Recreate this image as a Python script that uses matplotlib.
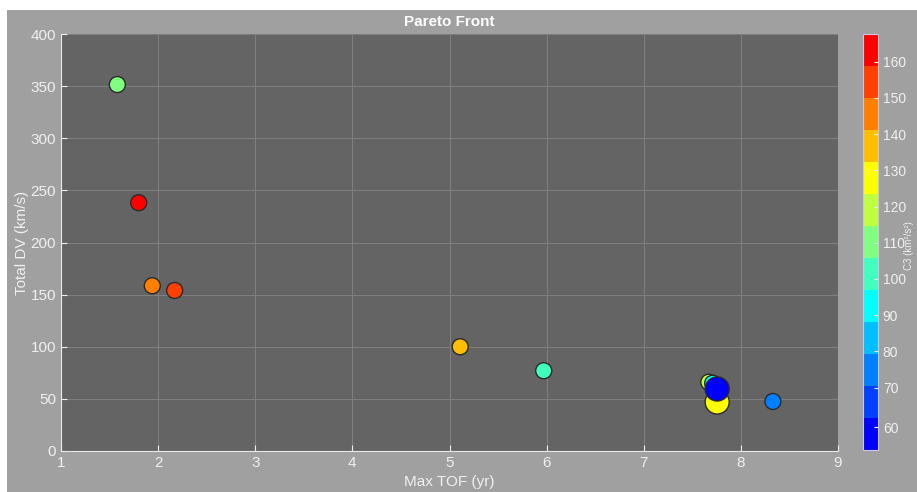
import matplotlib
matplotlib.use("Agg")
import matplotlib.pyplot as plt
from matplotlib.colors import ListedColormap, BoundaryNorm
from matplotlib.patches import Rectangle

plt.rcParams["font.family"] = ["Liberation Sans", "DejaVu Sans"]

# Pareto front solutions
max_tof = [1.58, 1.80, 1.94, 2.17, 5.11, 5.97, 7.67, 7.71, 7.756, 7.756, 8.33]
total_dv = [351.5, 238.2, 158.5, 154.0, 100.0, 77.0, 66.0, 65.0, 47.0, 59.5, 47.5]
c3 = [110.0, 165.0, 145.0, 154.0, 137.0, 102.0, 119.0, 93.0, 128.0, 58.0, 75.0]
marker_size = [133, 133, 133, 133, 133, 133, 133, 133, 300, 300, 133]

x_ticks = [1, 2, 3, 4, 5, 6, 7, 8, 9]
y_ticks = [0, 50, 100, 150, 200, 250, 300, 350, 400]
c_ticks = [60, 70, 80, 90, 100, 110, 120, 130, 140, 150, 160]

# Discrete jet-like colour scale, blue (low C3) to red (high C3)
band_colors = [
    (0.0, 0.0, 1.0), (0.0, 0.25, 1.0), (0.0, 0.5, 1.0), (0.0, 0.75, 1.0),
    (0.0, 1.0, 1.0), (0.25, 1.0, 0.75), (0.5, 1.0, 0.5), (0.75, 1.0, 0.25),
    (1.0, 1.0, 0.0), (1.0, 0.75, 0.0), (1.0, 0.5, 0.0), (1.0, 0.25, 0.0),
    (1.0, 0.0, 0.0),
]
c_min, c_max, band = 56.0, 167.6, 8.83
bounds = [c_min] + [c_max - k * band for k in range(12, 0, -1)] + [c_max]
cmap = ListedColormap(band_colors)
norm = BoundaryNorm(bounds, cmap.N)

fg = "#f0f0f0"
fig = plt.figure(figsize=(9.17, 4.92), dpi=100, facecolor="white")
fig.patches.append(Rectangle((7 / 917, 0), 1 - 7 / 917, 1 - 10 / 492,
                             transform=fig.transFigure, facecolor="#a0a0a0",
                             edgecolor="none", zorder=-10))

ax = fig.add_axes([61 / 917, 41 / 492, 777 / 917, 417 / 492])
ax.set_facecolor("#646464")
ax.scatter(max_tof, total_dv, c=c3, s=marker_size, cmap=cmap, norm=norm,
           edgecolors="#2a2a2a", linewidths=1.0, zorder=3)

ax.set_xlim(1, 9)
ax.set_ylim(0, 400)
ax.set_xticks(x_ticks)
ax.set_yticks(y_ticks)
ax.grid(True, color="#808080", linewidth=0.7, zorder=0)
ax.tick_params(direction="in", colors=fg, labelsize=11, length=4,
               labelcolor=fg)
for side in ("top", "right"):
    ax.spines[side].set_visible(False)
for side in ("left", "bottom"):
    ax.spines[side].set_color("#e8e8e8")

ax.set_xlabel("Max TOF (yr)", color=fg, fontsize=11, labelpad=4)
ax.set_ylabel("Total DV (km/s)", color=fg, fontsize=11, labelpad=1)
ax.set_title("Pareto Front", color="white", fontsize=11, fontweight="bold",
             pad=6)

cax = fig.add_axes([863 / 917, 42 / 492, 15 / 917, 416 / 492])
sm = plt.cm.ScalarMappable(cmap=cmap, norm=norm)
cb = fig.colorbar(sm, cax=cax, ticks=c_ticks, boundaries=bounds)
cb.minorticks_off()
cb.outline.set_edgecolor("#c8c8e0")
cb.ax.tick_params(colors=fg, labelsize=10, direction="in", length=3,
                  labelcolor=fg)
fig.text(904 / 917, 0.5, "C3 (km²/s²)", rotation=90, color=fg,
         fontsize=7, ha="left", va="center")

fig.savefig("out.png", dpi=100, facecolor=fig.get_facecolor())
